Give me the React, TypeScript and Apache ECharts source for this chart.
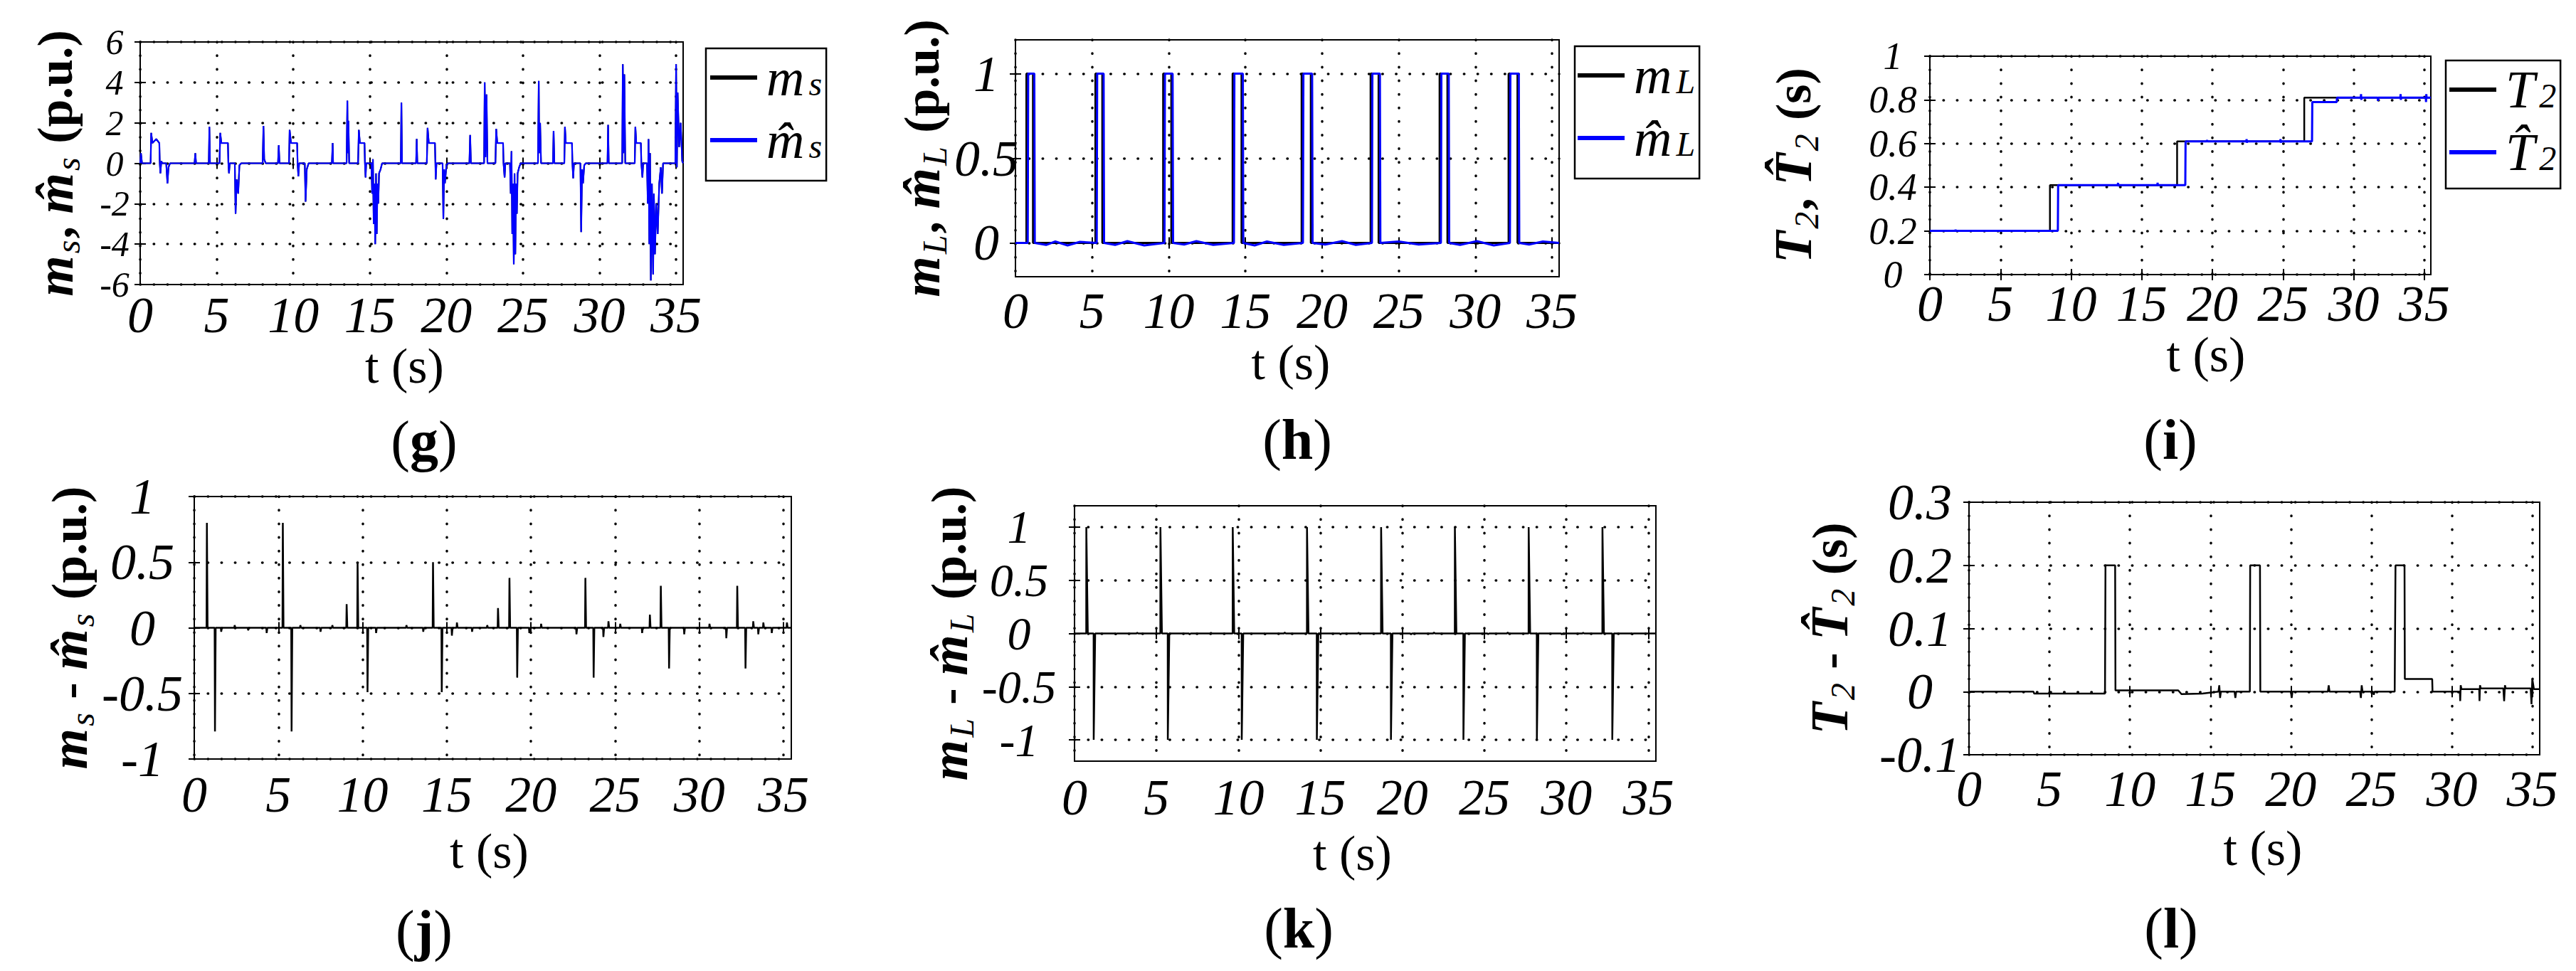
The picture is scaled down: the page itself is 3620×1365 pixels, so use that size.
import React, { useEffect, useRef } from "react";
import * as echarts from "echarts";

type P = [number, number];

const FONT = "'Liberation Serif', 'Times New Roman', Times, serif";
const T_END = 35.46;
const timeTicks = [0, 5, 10, 15, 20, 25, 30, 35];

// ---------- (g) m_s and its estimate (black lies under the blue trace) ----------
const msHatPts: P[] = [
  [0, 0], [0.05, 0.5], [0.12, 0], [0.68, 0], [0.72, 1.5], [0.8, 1.0], [1.05, 1.2], [1.25, 1.0], [1.28, 0], [1.32, -0.5], [1.38, 0.1], [1.45, 0],
  [1.7, 0], [1.78, -1.0], [1.85, -0.2], [1.95, 0],
  [3.55, 0], [3.6, 0.5], [3.65, 0], [4.48, 0], [4.52, 1.8], [4.56, 0], [5.18, 0], [5.23, 1.5], [5.3, 1.0], [5.73, 1.0], [5.76, 0], [5.8, -0.5], [5.85, 0],
  [6.18, 0], [6.23, -2.5], [6.3, -0.8], [6.4, -1.5], [6.48, -0.1], [6.6, 0],
  [8.0, 0], [8.05, 1.85], [8.1, 0.2], [8.2, 0], [9.0, 0], [9.05, 0.9], [9.1, 0], [9.72, 0], [9.76, 1.65], [9.85, 1.0], [10.25, 1.0], [10.28, 0], [10.33, -0.65], [10.38, 0],
  [10.75, 0], [10.8, -1.9], [10.88, -0.3], [11.0, 0],
  [12.52, 0], [12.57, 1.0], [12.6, 0], [13.48, 0], [13.53, 3.1], [13.56, 0.5], [13.6, 2.1], [13.65, 0], [14.23, 0], [14.28, 1.65], [14.35, 1.0], [14.65, 1.0], [14.68, 0], [14.72, -0.7], [14.76, 0],
  [15.1, 0], [15.15, -1.5], [15.2, 0.2], [15.25, -3.0], [15.3, -1.0], [15.35, -4.0], [15.4, -0.5], [15.45, -3.5], [15.5, -1.0], [15.55, -2.0], [15.6, -0.5], [15.7, -0.3], [15.8, 0],
  [17.02, 0], [17.06, 3.0], [17.1, 0], [18.02, 0], [18.06, 1.2], [18.1, 0], [18.72, 0], [18.77, 1.75], [18.85, 1.0], [19.25, 1.0], [19.28, 0], [19.3, -0.8], [19.35, 0],
  [19.75, 0], [19.8, -2.75], [19.85, -0.3], [19.9, -1.0], [20.0, -0.1], [20.1, 0],
  [21.5, 0], [21.55, 1.4], [21.6, 0], [22.46, 0], [22.5, 4.0], [22.55, 0.3], [22.62, 3.4], [22.68, 0], [23.2, 0], [23.25, 1.7], [23.32, 1.0], [23.7, 1.0], [23.73, 0], [23.8, -0.7], [23.85, 0],
  [24.15, 0], [24.2, -1.5], [24.25, 0.6], [24.3, -3.5], [24.35, -1.0], [24.4, -5.0], [24.45, -0.5], [24.5, -4.5], [24.55, -1.0], [24.6, -2.5], [24.65, -0.5], [24.75, -0.2], [24.85, 0],
  [25.98, 0], [26.03, 4.07], [26.06, 0.5], [26.12, 2.0], [26.18, 0], [26.96, 0], [27.0, 1.6], [27.05, 0], [27.7, 0], [27.74, 1.8], [27.8, 1.0], [28.2, 1.0], [28.23, 0], [28.28, -0.75], [28.33, 0],
  [28.75, 0], [28.8, -3.4], [28.86, -0.3], [28.92, -1.0], [29.0, -0.1], [29.1, 0],
  [30.52, 0], [30.56, 1.9], [30.6, 0], [31.48, 0], [31.52, 4.9], [31.56, 0.5], [31.62, 4.4], [31.68, 0], [32.3, 0], [32.34, 1.8], [32.4, 1.0], [32.7, 1.0], [32.73, 0], [32.8, -0.7], [32.85, 0],
  [33.1, 0], [33.15, -2.0], [33.2, 1.2], [33.25, -4.0], [33.3, 0.5], [33.35, -5.8], [33.42, -1.0], [33.5, -5.5], [33.55, -1.5], [33.62, -4.5], [33.7, -2.0], [33.8, -3.5], [33.9, -1.0], [34.0, -0.2],
  [34.08, -1.5], [34.15, 0],
  [34.95, 0], [35.0, 4.9], [35.05, -0.2], [35.1, 3.5], [35.2, 0.8], [35.3, 2.0], [35.4, 0.1], [35.46, 0],
];
const msPts: P[] = msHatPts;

// ---------- (h) m_L pulses and estimate ----------
const mLRise = [0.72, 5.22, 9.64, 14.17, 18.67, 23.17, 27.67, 32.17];
const mLFall = [1.15, 5.67, 10.17, 14.75, 19.27, 23.69, 28.18, 32.75];
const mLHatRise = [0.8, 5.3, 9.72, 14.25, 18.75, 23.25, 27.75, 32.25];
const mLHatFall = [1.23, 5.75, 10.25, 14.83, 19.35, 23.77, 28.26, 32.83];
const mLHatRipple: P[] = [
  [2.0, -0.012], [2.6, 0.008], [3.4, -0.015], [4.2, 0.006], [6.5, -0.012], [7.3, 0.01], [8.4, -0.015],
  [11.0, -0.01], [11.8, 0.01], [12.9, -0.012], [15.6, -0.015], [16.4, 0.008], [17.5, -0.012],
  [20.2, -0.01], [21.3, 0.01], [22.2, -0.012], [25.0, 0.008], [26.3, -0.01], [29.0, -0.012],
  [30.1, 0.01], [31.2, -0.015], [33.5, -0.01], [34.4, 0.008],
];

// ---------- (i) T2 and estimate ----------
const T2Steps: P[] = [[0, 0.2], [8.5, 0.41], [17.5, 0.61], [26.5, 0.81], [T_END, 0.81]];
const T2HatPts: P[] = [
  [0, 0.2], [1.8, 0.2], [1.82, 0.206], [1.84, 0.2], [9.06, 0.2], [9.08, 0.41], [13.3, 0.41], [13.32, 0.42], [13.34, 0.404], [13.36, 0.41],
  [16.1, 0.41], [16.12, 0.42], [16.14, 0.41], [18.08, 0.41], [18.1, 0.61], [19.6, 0.61], [19.62, 0.616], [19.64, 0.61],
  [22.4, 0.61], [22.42, 0.62], [22.44, 0.604], [22.46, 0.61], [24.8, 0.61], [24.82, 0.62], [24.84, 0.604], [24.86, 0.61],
  [27.05, 0.61], [27.07, 0.79], [28.8, 0.79], [28.82, 0.81], [30.5, 0.81], [30.52, 0.826], [30.54, 0.8], [30.56, 0.81],
  [31.7, 0.81], [31.72, 0.795], [31.74, 0.81], [33.3, 0.81], [33.32, 0.826], [33.34, 0.8], [33.36, 0.81],
  [35.1, 0.81], [35.12, 0.79], [35.14, 0.826], [35.16, 0.81], [T_END, 0.81],
];

// ---------- (j) m_s - m̂_s ----------
const msErrPeaks: P[] = [
  [0.75, 0.8], [1.23, -0.79], [5.26, 0.8], [5.78, -0.79], [9.05, 0.18], [9.7, 0.5], [10.29, -0.49],
  [14.18, 0.5], [14.7, -0.49], [18.04, 0.15], [18.72, 0.38], [19.18, -0.38], [23.23, 0.38], [23.72, -0.38],
  [27.06, 0.1], [27.71, 0.32], [28.2, -0.31], [32.25, 0.32], [32.74, -0.31],
];
const msErrRipple: P[] = [
  [1.6, -0.03], [2.4, 0.02], [3.2, -0.02], [4.3, -0.04], [6.3, 0.02], [7.5, -0.03], [8.2, 0.02], [10.8, -0.04],
  [12.6, 0.02], [13.6, -0.03], [15.3, -0.06], [15.6, 0.04], [16.5, -0.03], [17.4, 0.02], [19.9, -0.04],
  [20.6, 0.03], [22.7, -0.05], [24.3, -0.07], [24.6, 0.05], [25.3, 0.03], [26.6, -0.04], [29.1, -0.05],
  [30.6, 0.03], [31.6, -0.08], [33.2, 0.05], [33.5, -0.05], [33.8, 0.04], [34.3, -0.04], [35.2, 0.04],
];

// ---------- (k) m_L - m̂_L ----------
const mLErrUp = [0.72, 5.24, 9.65, 14.18, 18.7, 23.2, 27.7, 32.2];
const mLErrDown = [1.17, 5.69, 10.2, 14.78, 19.3, 23.72, 28.2, 32.8];
const mLErrRipple: P[] = [
  [2.5, -0.01], [3.8, 0.008], [7.0, -0.01], [8.3, 0.008], [11.6, -0.01], [12.8, 0.01], [16.2, -0.01],
  [17.3, 0.008], [20.5, -0.01], [21.9, 0.01], [25.2, -0.008], [26.4, 0.01], [29.7, -0.01], [31.0, 0.008], [34.0, -0.01],
];

// ---------- (l) T2 - T̂2 ----------
const T2ErrPts: P[] = [
  [0, 0], [4.0, 0], [4.05, -0.003], [8.45, -0.003], [8.48, 0.2], [9.08, 0.2], [9.1, 0.002], [13.0, 0.002], [13.2, -0.004],
  [14.5, -0.003], [15.5, 0], [15.55, 0.01], [15.6, -0.01], [15.65, 0], [16.5, 0], [16.55, -0.01], [16.6, 0],
  [17.45, 0], [17.47, 0.2], [18.08, 0.2], [18.1, 0], [20.0, 0], [20.05, -0.01], [20.1, 0], [22.3, 0], [22.35, 0.01], [22.4, 0],
  [24.3, 0], [24.35, -0.01], [24.4, 0.01], [24.45, 0], [25.1, 0], [25.15, -0.005], [25.2, 0],
  [26.45, 0], [26.5, 0.2], [27.06, 0.2], [27.08, 0.02], [28.78, 0.02], [28.8, 0],
  [30.5, 0], [30.52, -0.015], [30.55, 0.01], [30.6, 0.004], [31.7, 0.004], [31.72, -0.015], [31.75, 0.01], [31.8, 0.005],
  [33.2, 0.005], [33.25, -0.015], [33.3, 0.01], [33.35, 0.005], [34.9, 0.005], [34.95, -0.02], [35.0, 0.02], [35.1, 0.004], [T_END, 0.004],
];

// ---------- axis tick values ----------
const gTicks = [-6, -4, -2, 0, 2, 4, 6];
const hTicks = [0, 0.5, 1];
const iTicks = [0, 0.2, 0.4, 0.6, 0.8, 1];
const jTicks = [-1, -0.5, 0, 0.5, 1];
const kTicks = [-1, -0.5, 0, 0.5, 1];
const lTicks = [-0.1, 0, 0.1, 0.2, 0.3];

// ---------- builders ----------
function pulseSteps(rise: number[], fall: number[], ramp: number, ripple: P[] = []): P[] {
  const pts: P[] = [[0, 0]];
  rise.forEach((r, i) => {
    pts.push([r, 0], [r + ramp, 1], [fall[i], 1], [fall[i] + ramp, 0]);
  });
  pts.push([T_END, 0]);
  return pts.concat(ripple).sort((a, b) => a[0] - b[0]);
}
function spikes(peaks: P[], before: number, after: number): P[] {
  const pts: P[] = [[0, 0]];
  [...peaks].sort((a, b) => a[0] - b[0]).forEach(([t, v]) => {
    pts.push([t - before, 0], [t, v], [t + after, 0]);
  });
  pts.push([T_END, 0]);
  return pts;
}
// tightly packed labels are split over two co-located axes (every other value each)
const everyOther = (vals: number[], parity: number) => vals.filter((_v, k) => k % 2 === parity);

const BLUE = "#0000ff";
const BLACK = "#000000";
const TICK_FS = 72;

const dotted = { color: "#000", width: 3.5, type: [0.5, 18.6], cap: "round" };

const tickRich = (fs: number) => ({
  t: { fontFamily: FONT, fontStyle: "italic", fontSize: fs, lineHeight: 26, color: "#000" },
});

const richName = {
  mi: { fontFamily: FONT, fontStyle: "italic", fontWeight: "bold", fontSize: 74, lineHeight: 84, color: "#000" },
  sub: { fontFamily: FONT, fontStyle: "italic", fontSize: 48, lineHeight: 36, verticalAlign: "bottom", color: "#000", padding: [0, 2, 0, 3] },
  n: { fontFamily: FONT, fontWeight: "bold", fontSize: 70, lineHeight: 84, color: "#000" },
};
const richLegend = {
  i: { fontFamily: FONT, fontStyle: "italic", fontSize: 74, lineHeight: 64, color: "#000" },
  s: { fontFamily: FONT, fontStyle: "italic", fontSize: 48, lineHeight: 28, verticalAlign: "bottom", color: "#000", padding: [0, 0, 0, 6] },
};

const legendText: Record<string, string> = {
  ms: "{i|m}{s|s}",
  msHat: "{i|m\u0302}{s|s}",
  mL: "{i|m}{s|L}",
  mLHat: "{i|m\u0302}{s|L}",
  T2: "{i|T}{s|2}",
  T2Hat: "{i|T\u0302}{s|2}",
};

const panels = [
  { grid: { left: 197, top: 59, width: 763, height: 341 }, yMin: -6, yMax: 6, yTicks: gTicks, split: true, yFs: 50,
    yName: "{mi|m}{sub|s}{n|, }{mi|m\u0302}{sub|s}{n| (p.u.)}", yGap: 78, yLabMargin: 36, xLabMargin: 30, xGap: 78, xPad: [0, 20, 0, 0] },
  { grid: { left: 1427, top: 56, width: 764, height: 333 }, yMin: -0.2, yMax: 1.2, yTicks: hTicks, split: false, yFs: TICK_FS,
    yName: "{mi|m}{sub|L}{n|, }{mi|m\u0302}{sub|L}{n| (p.u.)}", yGap: 83, yLabMargin: 41, xLabMargin: 35, xGap: 85, xPad: [0, 0, 0, 10] },
  { grid: { left: 2712, top: 79, width: 704, height: 307 }, yMin: 0, yMax: 1, yTicks: iTicks, split: true, yFs: 54,
    yName: "{mi|T}{sub|2}{n|, }{mi|T\u0302}{sub|2}{n| (s)}", yGap: 150, yLabMargin: 52, xLabMargin: 28, xGap: 72, xPad: [0, 0, 0, 72] },
  { grid: { left: 273, top: 698, width: 839, height: 369 }, yMin: -1, yMax: 1, yTicks: jTicks, split: false, yFs: TICK_FS,
    yName: "{mi|m}{sub|s}{n| - }{mi|m\u0302}{sub|s}{n| (p.u.)}", yGap: 126, yLabMargin: 73, xLabMargin: 37, xGap: 94, xPad: [0, 10, 0, 0] },
  { grid: { left: 1510, top: 711, width: 817, height: 359 }, yMin: -1.2, yMax: 1.2, yTicks: kTicks, split: false, yFs: 66,
    yName: "{mi|m}{sub|L}{n| - }{mi|m\u0302}{sub|L}{n| (p.u.)}", yGap: 128, yLabMargin: 78, xLabMargin: 38, xGap: 94, xPad: [0, 36, 0, 0] },
  { grid: { left: 2767, top: 706, width: 802, height: 355 }, yMin: -0.1, yMax: 0.3, yTicks: lTicks, split: false, yFs: TICK_FS,
    yName: "{mi|T}{sub|2}{n| - }{mi|T\u0302}{sub|2}{n| (s)}", yGap: 154, yLabMargin: 69, xLabMargin: 35, xGap: 96, xPad: [0, 0, 0, 24] },
];

const panelLabels = [
  { letter: "g", x: 596, y: 620 },
  { letter: "h", x: 1823, y: 618 },
  { letter: "i", x: 3050, y: 618 },
  { letter: "j", x: 596, y: 1308 },
  { letter: "k", x: 1825, y: 1305 },
  { letter: "l", x: 3051, y: 1305 },
];

const tickStyle = { show: true, inside: true, length: 8, lineStyle: { color: "#000", width: 2 } };

function buildOption() {
  const grid = panels.map((p) => ({
    ...p.grid,
    show: true,
    borderColor: "#000",
    borderWidth: 2,
    backgroundColor: "#fff",
    containLabel: false,
  }));

  const xAxisMain = panels.map((p, i) => ({
    type: "value",
    gridIndex: i,
    position: "bottom",
    min: 0,
    max: T_END,
    interval: 5,
    axisLine: { show: false },
    axisTick: { ...tickStyle, customValues: timeTicks },
    axisLabel: {
      customValues: timeTicks,
      showMinLabel: true,
      showMaxLabel: true,
      hideOverlap: false,
      margin: p.xLabMargin,
      rich: tickRich(TICK_FS),
      formatter: (v: number) => (Math.abs(v - Math.round(v / 5) * 5) < 1e-6 ? `{t|${Math.round(v)}}` : ""),
    },
    splitLine: { show: true, lineStyle: dotted },
    name: "t (s)",
    nameLocation: "middle",
    nameGap: p.xGap,
    nameTextStyle: { fontFamily: FONT, fontSize: 70, lineHeight: 70, color: "#000", padding: p.xPad },
  }));
  const xAxisTop = panels.map((_p, i) => ({
    type: "value",
    gridIndex: i,
    position: "top",
    min: 0,
    max: T_END,
    interval: 5,
    axisLine: { show: false },
    axisTick: { ...tickStyle, customValues: timeTicks },
    axisLabel: { show: false },
    splitLine: { show: false },
  }));

  const yLabel = (p: any, values: number[]) => ({
    customValues: values,
    showMinLabel: true,
    showMaxLabel: true,
    hideOverlap: false,
    margin: p.yLabMargin,
    align: "center",
    rich: tickRich(p.yFs),
    formatter: (v: number) => `{t|${Math.round(v * 100) / 100}}`,
  });

  const yAxisMain = panels.map((p, i) => ({
    type: "value",
    gridIndex: i,
    position: "left",
    min: p.yMin,
    max: p.yMax,
    axisLine: { show: false },
    axisTick: { ...tickStyle, customValues: p.yTicks },
    axisLabel: yLabel(p, p.split ? everyOther(p.yTicks, 0) : p.yTicks),
    splitLine: { show: true, lineStyle: dotted },
    name: p.yName,
    nameLocation: "middle",
    nameRotate: 90,
    nameGap: p.yGap,
    nameTextStyle: { rich: richName, fontFamily: FONT, fontSize: 70, lineHeight: 84, color: "#000" },
  }));
  const yAxisRight = panels.map((p, i) => ({
    type: "value",
    gridIndex: i,
    position: "right",
    min: p.yMin,
    max: p.yMax,
    axisLine: { show: false },
    axisTick: { ...tickStyle, customValues: p.yTicks },
    axisLabel: { show: false },
    splitLine: { show: false },
  }));
  const yAxisAlt: any[] = [];
  panels.forEach((p, i) => {
    if (!p.split) return;
    yAxisAlt.push({
      type: "value",
      gridIndex: i,
      position: "left",
      offset: 0,
      min: p.yMin,
      max: p.yMax,
      axisLine: { show: false },
      axisTick: { show: false },
      axisLabel: yLabel(p, everyOther(p.yTicks, 1)),
      splitLine: { show: false },
    });
  });

  const line = (name: string, idx: number, data: P[], color: string, width: number, extra: any = {}) => ({
    name,
    type: "line",
    xAxisIndex: idx,
    yAxisIndex: idx,
    data,
    showSymbol: false,
    symbol: "none",
    lineStyle: { color, width },
    itemStyle: { color },
    emphasis: { disabled: true },
    ...extra,
  });

  const series = [
    line("ms", 0, msPts, BLACK, 2),
    line("msHat", 0, msHatPts, BLUE, 2.2),
    line("mL", 1, pulseSteps(mLRise, mLFall, 0), BLACK, 3),
    line("mLHat", 1, pulseSteps(mLHatRise, mLHatFall, 0.03, mLHatRipple), BLUE, 3),
    line("T2", 2, T2Steps, BLACK, 2.5, { step: "end" }),
    line("T2Hat", 2, T2HatPts, BLUE, 3),
    line("msErr", 3, spikes(msErrPeaks.concat(msErrRipple), 0.02, 0.04), BLACK, 2.5),
    line("mLErr", 4, spikes(mLErrUp.map((t) => [t, 1] as P).concat(mLErrDown.map((t) => [t, -1] as P), mLErrRipple), 0.005, 0.09), BLACK, 2.5),
    line("T2Err", 5, T2ErrPts, BLACK, 2.5),
  ];

  const legendBase = {
    orient: "vertical",
    borderColor: "#000",
    borderWidth: 2.5,
    backgroundColor: "#fff",
    itemGap: 14,
    itemWidth: 66,
    itemHeight: 6,
    icon: "rect",
    selectedMode: false,
    formatter: (name: string) => legendText[name],
    textStyle: { rich: richLegend, fontFamily: FONT, fontSize: 74, color: "#000", padding: [0, 0, 0, 8] },
  };
  const legend = [
    { ...legendBase, data: ["ms", "msHat"], left: 992, top: 68, padding: [4, 6, 20, 6] },
    { ...legendBase, data: ["mL", "mLHat"], left: 2213, top: 65, padding: [4, 6, 20, 4] },
    { ...legendBase, data: ["T2", "T2Hat"], left: 3437, top: 85, padding: [4, 6, 14, 5] },
  ];

  const graphic = panelLabels.map((l) => ({
    type: "text",
    x: l.x,
    y: l.y,
    silent: true,
    style: {
      text: `{p|(}{b|${l.letter}}{p|)}`,
      align: "center",
      verticalAlign: "middle",
      rich: {
        p: { fontFamily: FONT, fontSize: 80, lineHeight: 90, fill: "#000", color: "#000" },
        b: { fontFamily: FONT, fontSize: 80, fontWeight: "bold", lineHeight: 90, fill: "#000", color: "#000" },
      },
    },
  }));

  return {
    animation: false,
    backgroundColor: "#fff",
    textStyle: { fontFamily: FONT },
    grid,
    xAxis: [...xAxisMain, ...xAxisTop],
    yAxis: [...yAxisMain, ...yAxisRight, ...yAxisAlt],
    series,
    legend,
    graphic,
  };
}

export default function App() {
  const ref = useRef<HTMLDivElement>(null);
  useEffect(() => {
    if (!ref.current) return;
    const chart = echarts.init(ref.current, null, { renderer: "svg" });
    chart.setOption(buildOption() as any);
    return () => chart.dispose();
  }, []);
  return (
    <div
      ref={ref}
      style={{ position: "absolute", left: 0, top: 0, width: 3620, height: 1365, background: "#fff" }}
    />
  );
}
